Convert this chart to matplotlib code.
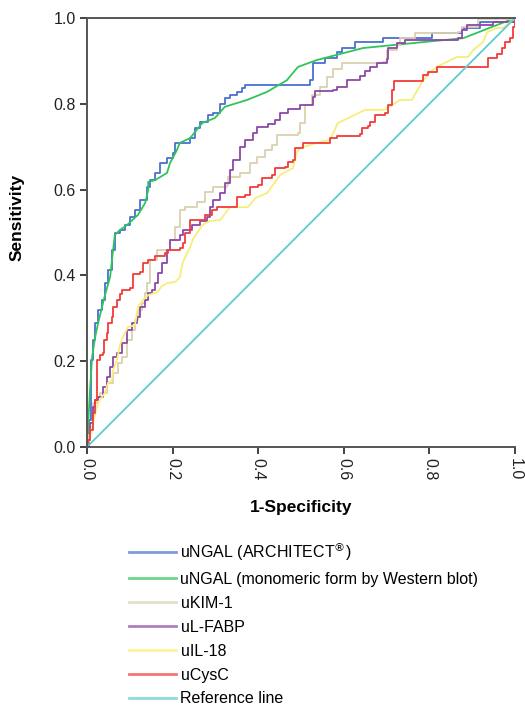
import matplotlib
matplotlib.use("Agg")
import matplotlib.pyplot as plt

# ROC curves (1-specificity, sensitivity)
ngal_arch_x = [0, 0.005, 0.009, 0.014, 0.019, 0.026, 0.035, 0.042, 0.049, 0.058, 0.065, 0.077,
               0.089, 0.100, 0.112, 0.124, 0.140, 0.147, 0.159, 0.171, 0.187, 0.201, 0.206, 0.217,
               0.241, 0.252, 0.264, 0.283, 0.294, 0.311, 0.322, 0.334, 0.350, 0.362, 0.369, 0.502,
               0.521, 0.528, 0.556, 0.584, 0.596, 0.626, 0.692, 0.806, 0.876, 0.918, 1.0]
ngal_arch_y = [0, 0.063, 0.203, 0.249, 0.289, 0.319, 0.343, 0.382, 0.413, 0.459, 0.499, 0.506,
               0.517, 0.536, 0.552, 0.576, 0.606, 0.622, 0.639, 0.662, 0.674, 0.685, 0.709, 0.709,
               0.720, 0.744, 0.758, 0.774, 0.779, 0.800, 0.814, 0.821, 0.828, 0.837, 0.844, 0.844,
               0.855, 0.895, 0.907, 0.921, 0.930, 0.944, 0.953, 0.965, 0.977, 0.991, 1.0]

ngal_wb_x = [0, 0.007, 0.012, 0.019, 0.026, 0.035, 0.042, 0.054, 0.061, 0.065, 0.077, 0.093,
             0.119, 0.136, 0.143, 0.143, 0.159, 0.187, 0.194, 0.210, 0.217, 0.241, 0.269, 0.299,
             0.322, 0.374, 0.421, 0.467, 0.493, 0.537, 0.645, 0.879, 1.0]
ngal_wb_y = [0, 0.133, 0.210, 0.256, 0.289, 0.326, 0.354, 0.396, 0.459, 0.494, 0.506, 0.517,
             0.541, 0.569, 0.599, 0.618, 0.622, 0.639, 0.662, 0.692, 0.709, 0.720, 0.755, 0.767,
             0.793, 0.809, 0.828, 0.855, 0.886, 0.902, 0.930, 0.953, 1.0]

kim1_x = [0, 0.002, 0.007, 0.014, 0.023, 0.030, 0.047, 0.061, 0.072, 0.082, 0.093, 0.105, 0.112,
          0.119, 0.129, 0.136, 0.140, 0.147, 0.164, 0.187, 0.194, 0.206, 0.217, 0.229, 0.257,
          0.276, 0.294, 0.327, 0.329, 0.357, 0.381, 0.397, 0.416, 0.432, 0.444, 0.493, 0.498,
          0.509, 0.526, 0.544, 0.561, 0.575, 0.596, 0.692, 0.701, 0.724, 0.731, 0.766, 0.867,
          0.876, 0.914, 1.0]
kim1_y = [0, 0.028, 0.056, 0.103, 0.117, 0.126, 0.149, 0.172, 0.196, 0.210, 0.249, 0.273, 0.296,
          0.319, 0.336, 0.359, 0.382, 0.436, 0.459, 0.459, 0.483, 0.513, 0.552, 0.559, 0.571,
          0.594, 0.606, 0.611, 0.629, 0.639, 0.662, 0.676, 0.692, 0.704, 0.727, 0.732, 0.755,
          0.797, 0.821, 0.839, 0.862, 0.881, 0.895, 0.897, 0.925, 0.937, 0.953, 0.965, 0.967,
          0.979, 0.998, 1.0]

lfabp_x = [0, 0.002, 0.007, 0.014, 0.019, 0.026, 0.037, 0.047, 0.054, 0.061, 0.070, 0.082, 0.093,
           0.105, 0.117, 0.124, 0.136, 0.143, 0.152, 0.159, 0.166, 0.175, 0.187, 0.194, 0.210,
           0.217, 0.224, 0.236, 0.245, 0.264, 0.280, 0.287, 0.294, 0.311, 0.322, 0.334, 0.341,
           0.357, 0.369, 0.388, 0.397, 0.423, 0.439, 0.451, 0.470, 0.498, 0.528, 0.533, 0.575,
           0.584, 0.607, 0.638, 0.650, 0.661, 0.678, 0.701, 0.703, 0.724, 0.743, 0.867, 0.876,
           0.888, 0.949, 1.0]
lfabp_y = [0, 0.016, 0.056, 0.093, 0.110, 0.117, 0.140, 0.163, 0.186, 0.210, 0.219, 0.242, 0.273,
           0.289, 0.303, 0.326, 0.343, 0.359, 0.366, 0.382, 0.406, 0.429, 0.459, 0.483, 0.483,
           0.494, 0.506, 0.506, 0.517, 0.527, 0.536, 0.559, 0.576, 0.592, 0.615, 0.646, 0.669,
           0.699, 0.716, 0.732, 0.746, 0.753, 0.762, 0.779, 0.788, 0.797, 0.816, 0.830, 0.832,
           0.839, 0.855, 0.865, 0.876, 0.886, 0.895, 0.904, 0.930, 0.942, 0.949, 0.953, 0.972,
           0.984, 0.991, 1.0]

il18_x = [0, 0.007, 0.014, 0.023, 0.030, 0.042, 0.049, 0.058, 0.061, 0.070, 0.077, 0.084, 0.096,
          0.112, 0.119, 0.131, 0.143, 0.164, 0.175, 0.187, 0.206, 0.217, 0.224, 0.234, 0.241,
          0.248, 0.269, 0.287, 0.311, 0.334, 0.376, 0.393, 0.421, 0.451, 0.481, 0.491, 0.498,
          0.537, 0.568, 0.586, 0.650, 0.696, 0.731, 0.759, 0.783, 0.801, 0.825, 0.864, 0.890,
          0.902, 0.925, 0.935, 0.958, 0.972, 1.0]
il18_y = [0, 0.023, 0.056, 0.093, 0.110, 0.126, 0.149, 0.156, 0.179, 0.203, 0.238, 0.256, 0.280,
          0.284, 0.326, 0.343, 0.354, 0.361, 0.375, 0.382, 0.385, 0.396, 0.431, 0.452, 0.466,
          0.485, 0.517, 0.527, 0.529, 0.559, 0.559, 0.580, 0.592, 0.634, 0.650, 0.688, 0.697,
          0.709, 0.716, 0.755, 0.786, 0.786, 0.809, 0.809, 0.851, 0.874, 0.890, 0.909, 0.909,
          0.925, 0.944, 0.967, 0.977, 0.977, 1.0]

cysc_x = [0, 0.002, 0.007, 0.014, 0.019, 0.023, 0.023, 0.030, 0.037, 0.040, 0.047, 0.049, 0.058,
          0.061, 0.070, 0.077, 0.082, 0.100, 0.107, 0.124, 0.131, 0.143, 0.159, 0.182, 0.189,
          0.217, 0.224, 0.229, 0.241, 0.269, 0.276, 0.292, 0.304, 0.341, 0.350, 0.369, 0.381,
          0.400, 0.409, 0.432, 0.439, 0.463, 0.470, 0.481, 0.486, 0.505, 0.563, 0.568, 0.584,
          0.638, 0.643, 0.657, 0.661, 0.673, 0.696, 0.703, 0.713, 0.717, 0.780, 0.785, 0.797,
          0.818, 0.935, 0.937, 0.958, 0.970, 0.977, 0.988, 0.995, 1.0]
cysc_y = [0, 0.016, 0.040, 0.079, 0.110, 0.149, 0.203, 0.214, 0.219, 0.249, 0.266, 0.289, 0.303,
          0.326, 0.343, 0.357, 0.366, 0.371, 0.403, 0.408, 0.429, 0.436, 0.445, 0.452, 0.459,
          0.464, 0.476, 0.499, 0.529, 0.529, 0.541, 0.552, 0.559, 0.559, 0.583, 0.587, 0.606,
          0.611, 0.627, 0.634, 0.650, 0.653, 0.664, 0.669, 0.697, 0.709, 0.709, 0.720, 0.725,
          0.730, 0.744, 0.748, 0.758, 0.774, 0.779, 0.797, 0.832, 0.853, 0.853, 0.867, 0.874,
          0.886, 0.886, 0.907, 0.916, 0.930, 0.944, 0.953, 0.979, 1.0]

ref_x = [0, 1]
ref_y = [0, 1]

labels = [r"uNGAL (ARCHITECT$^{\circledR}$)",
          "uNGAL (monomeric form by Western blot)",
          "uKIM-1", "uL-FABP", "uIL-18", "uCysC", "Reference line"]
colors = ["#4a6fcf", "#2fc45a", "#d9d2b0", "#8e48a8", "#f7ee78", "#f23c3c", "#5ccbd2"]

plt.rcParams['font.family'] = ['Liberation Sans', 'DejaVu Sans']

fig = plt.figure(figsize=(5.25, 7.07), dpi=100)
ax = fig.add_axes([87 / 525, 1 - 447 / 707, 428 / 525, 429 / 707])

lw = 1.3
ax.plot(ngal_arch_x, ngal_arch_y, color=colors[0], lw=lw, drawstyle='steps-post', label=labels[0])
ax.plot(ngal_wb_x, ngal_wb_y, color=colors[1], lw=lw, label=labels[1])
ax.plot(kim1_x, kim1_y, color=colors[2], lw=lw, drawstyle='steps-post', label=labels[2])
ax.plot(lfabp_x, lfabp_y, color=colors[3], lw=lw, drawstyle='steps-post', label=labels[3])
ax.plot(il18_x, il18_y, color=colors[4], lw=lw, label=labels[4])
ax.plot(cysc_x, cysc_y, color=colors[5], lw=lw, drawstyle='steps-post', label=labels[5])
ax.plot(ref_x, ref_y, color=colors[6], lw=lw, label=labels[6])

ax.set_xlim(0, 1)
ax.set_ylim(0, 1)
ticks = [0, 0.2, 0.4, 0.6, 0.8, 1.0]
ax.set_xticks(ticks)
ax.set_yticks(ticks)
ax.set_xticklabels(["0.0", "0.2", "0.4", "0.6", "0.8", "1.0"], rotation=-90)
ax.set_yticklabels(["0.0", "0.2", "0.4", "0.6", "0.8", "1.0"])
ax.tick_params(labelsize=11.5, colors="#222222", length=5, width=1.2, pad=3)
ax.spines['right'].set_visible(False)
for s in ['left', 'bottom', 'top']:
    ax.spines[s].set_color("#555555")
    ax.spines[s].set_linewidth(1.4)

ax.set_xlabel("1-Specificity", fontsize=12.5, fontweight='bold', labelpad=14)
ax.set_ylabel("Sensitivity", fontsize=12.5, fontweight='bold')
ax.yaxis.set_label_coords(-0.145, 0.534)

handles, labs = ax.get_legend_handles_labels()
leg = fig.legend(handles, labs, loc='upper left', bbox_to_anchor=(123 / 525, 1 - 534 / 707),
                 frameon=False, fontsize=11.5, handlelength=2.9, handletextpad=0.3,
                 labelspacing=0.56, borderaxespad=0)
for line in leg.get_lines():
    line.set_alpha(0.7)
    line.set_linewidth(2)

fig.savefig("out.png", dpi=100)
